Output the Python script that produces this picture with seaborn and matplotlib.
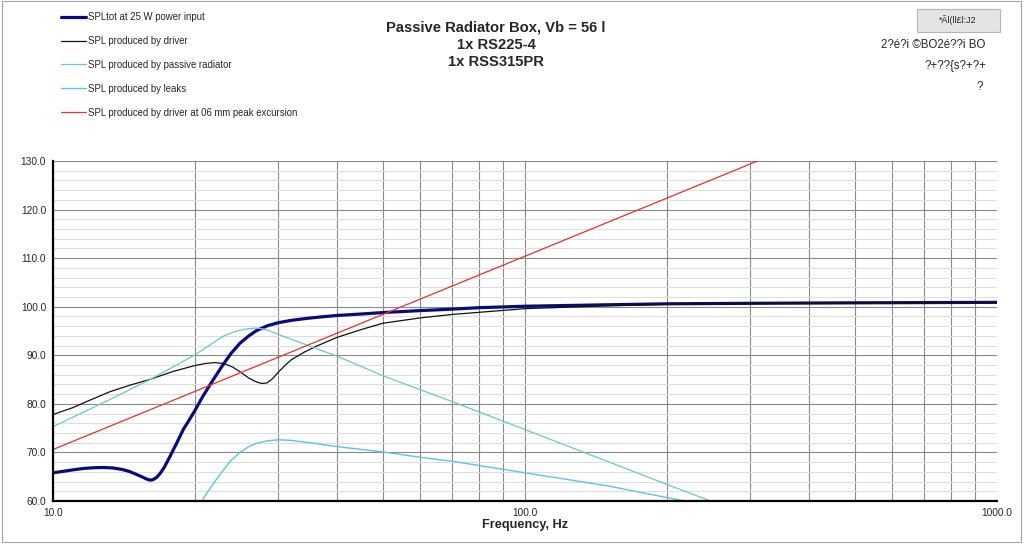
import numpy as np
import pandas as pd
import matplotlib
matplotlib.use("Agg")
import matplotlib.pyplot as plt
import matplotlib.patches as mpatches
from matplotlib.ticker import LogLocator, MultipleLocator, FuncFormatter, NullFormatter
import seaborn as sns

# ---- data ----
tot_f = [10, 10.5, 11.0, 11.6, 12.2, 12.8, 13.4, 14.0, 14.5, 15.0, 15.5, 15.8, 16.05, 16.3, 16.6,
         16.9, 17.2, 17.7, 18.3, 18.9, 19.5, 20, 20.7, 21.5, 22.2, 22.9, 23.8, 24.9, 26.0, 27.0,
         28.5, 30, 32, 34.5, 37, 40, 45, 50, 60, 70, 80, 100, 150, 200, 300, 500, 1000]
tot_spl = [65.8, 66.1, 66.4, 66.7, 66.85, 66.9, 66.8, 66.5, 66.1, 65.5, 64.9, 64.5, 64.3, 64.4, 64.9,
           65.8, 66.9, 69.2, 72.0, 74.8, 76.9, 78.7, 81.3, 83.9, 86.0, 88.0, 90.3, 92.5, 94.0, 95.1,
           96.1, 96.7, 97.2, 97.6, 97.9, 98.2, 98.5, 98.8, 99.2, 99.5, 99.8, 100.1, 100.4, 100.6,
           100.7, 100.8, 100.9]

drv_f = [10, 11, 12, 13.2, 14.5, 16, 18, 20, 21, 22, 23, 24, 25, 26, 27, 27.7, 28.4, 29.2, 30,
         31, 32, 34, 36, 40, 45, 50, 60, 70, 100, 150, 200, 300, 500, 1000]
drv_spl = [77.8, 79.2, 80.8, 82.5, 83.8, 85.0, 86.7, 87.9, 88.3, 88.5, 88.3, 87.6, 86.5, 85.3,
           84.5, 84.2, 84.3, 85.2, 86.5, 87.9, 89.1, 90.6, 91.8, 93.7, 95.3, 96.6, 97.7, 98.4,
           99.6, 100.2, 100.5, 100.7, 100.8, 100.9]

pr_f = [10, 13.2, 16.05, 20, 22.9, 24, 25, 26, 27, 28, 29, 30, 32, 34.5, 37, 40, 50, 60, 70,
        100, 150, 200, 260]
pr_spl = [75.3, 80.9, 85.0, 90.1, 93.9, 94.7, 95.2, 95.5, 95.6, 95.4, 94.9, 94.3, 93.3, 92.1,
          91.0, 89.8, 85.8, 82.9, 80.5, 74.7, 68.1, 63.4, 59.2]

leak_f = [20.5, 20.8, 21.3, 21.85, 22.4, 22.9, 23.8, 24.9, 26, 27, 28.5, 30, 31.8, 35, 40, 50,
          60, 70, 100, 150, 200, 230]
leak_spl = [59.2, 60.4, 62.0, 63.5, 65.0, 66.2, 68.3, 70.0, 71.2, 71.9, 72.4, 72.6, 72.5, 72.0,
            71.2, 70.1, 69.0, 68.2, 65.8, 63.1, 60.7, 59.6]

red_f = [10, 100, 311]
red_spl = [70.6, 110.4, 130.0]

labels = ["SPLtot at 25 W power input",
          "SPL produced by driver",
          "SPL produced by passive radiator",
          "SPL produced by leaks",
          "SPL produced by driver at 06 mm peak excursion"]
title_lines = ["Passive Radiator Box, Vb = 56 l", "1x RS225-4", "1x RSS315PR"]
button_text = "*Ãl(ll£l:J2"
right_lines = ["2?é?i ©BO2é??i BO", "?+??{s?+?+", "?"]

sns.set_style("white")
plt.rcParams["font.family"] = ["Liberation Sans", "DejaVu Sans"]

fig = plt.figure(figsize=(10.24, 5.46), dpi=100)
ax = fig.add_axes([53 / 1024, 1 - 501 / 546, 944 / 1024, 340 / 546])
ax.set_xscale("log")

series = [
    (tot_f, tot_spl, "#0a0a7a", 2.3),
    (drv_f, drv_spl, "#111111", 0.9),
    (pr_f, pr_spl, "#6cc8c8", 0.9),
    (leak_f, leak_spl, "#5ec3e6", 1.0),
    (red_f, red_spl, "#e5322b", 0.9),
]
for (f, s, c, lw), lab in zip(series, labels):
    sns.lineplot(x=f, y=s, ax=ax, color=c, linewidth=lw, label=lab)

if ax.get_legend() is not None:
    ax.get_legend().remove()

ax.set_xlim(10, 1000)
ax.set_ylim(60, 130)

ax.xaxis.set_major_locator(LogLocator(base=10))
ax.xaxis.set_minor_locator(LogLocator(base=10, subs=np.arange(2, 10)))
ax.xaxis.set_major_formatter(FuncFormatter(lambda v, p: f"{v:.1f}"))
ax.xaxis.set_minor_formatter(NullFormatter())
ax.yaxis.set_major_locator(MultipleLocator(10))
ax.yaxis.set_minor_locator(MultipleLocator(2))
ax.yaxis.set_major_formatter(FuncFormatter(lambda v, p: f"{v:.1f}"))

ax.grid(which="major", axis="both", color="#8a8a8a", linewidth=0.8)
ax.grid(which="minor", axis="x", color="#8a8a8a", linewidth=0.8)
ax.grid(which="minor", axis="y", color="#dedede", linewidth=0.8)
ax.set_axisbelow(True)

# no vertical gridline on the right edge (1000 Hz)
for tick, loc in zip(ax.xaxis.get_major_ticks(), ax.get_xticks()):
    if loc >= 999:
        tick.gridline.set_visible(False)

ax.tick_params(which="major", direction="out", length=3, width=1, color="black",
               labelsize=7.3, pad=2)
ax.tick_params(which="minor", length=0)
for side in ["top", "right"]:
    ax.spines[side].set_visible(False)
for side in ["left", "bottom"]:
    ax.spines[side].set_color("black")
    ax.spines[side].set_linewidth(1.6)

ax.set_xlabel("Frequency, Hz", fontsize=9.2, fontweight="bold", labelpad=1)
ax.set_ylabel("")

# legend up in the top-left corner, outside the plot
handles, labs = ax.get_legend_handles_labels()
fig.legend(handles, labs, loc="upper left", bbox_to_anchor=(61 / 1024, 1 - 12 / 546),
           frameon=False, fontsize=6.9, labelspacing=1.45, handlelength=2.6,
           handletextpad=0.2, borderpad=0, borderaxespad=0)

fig.text(496 / 1024, 1 - 21 / 546, "\n".join(title_lines), ha="center", va="top",
         fontsize=10.6, fontweight="bold", linespacing=1.27)

# grey button + the odd right-hand text
btn = mpatches.Rectangle((917 / 1024, 1 - 32 / 546), 83 / 1024, 23 / 546,
                         transform=fig.transFigure, facecolor="#e4e4e4",
                         edgecolor="#b5b5b5", linewidth=0.8)
fig.patches.append(btn)
fig.text(958 / 1024, 1 - 20 / 546, button_text, ha="center", va="center", fontsize=6.5)
fig.text(985 / 1024, 1 - 45 / 546, right_lines[0], ha="right", va="center", fontsize=8.3)
fig.text(986 / 1024, 1 - 66 / 546, right_lines[1], ha="right", va="center", fontsize=8.3)
fig.text(983 / 1024, 1 - 87 / 546, right_lines[2], ha="right", va="center", fontsize=8.3)

# chart frame
frame = mpatches.Rectangle((2 / 1024, 1 - 542 / 546), 1019 / 1024, 541 / 546,
                           transform=fig.transFigure, fill=False,
                           edgecolor="#a8a8a8", linewidth=0.8)
fig.patches.append(frame)

fig.savefig("out.png", dpi=100, facecolor="white")
